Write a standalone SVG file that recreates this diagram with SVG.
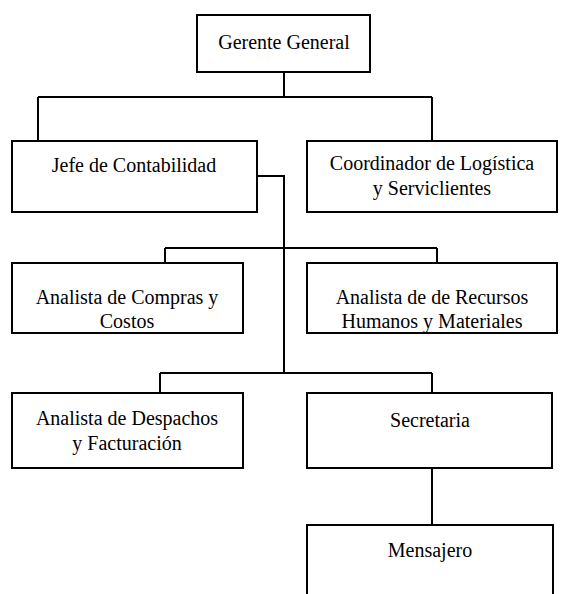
<svg xmlns="http://www.w3.org/2000/svg" width="568" height="594" viewBox="0 0 568 594">
<style>
.box{fill:#fff;stroke:#000;stroke-width:2}
.ln{fill:none;stroke:#000;stroke-width:2}
.t{font-size:20px;fill:#000;text-anchor:middle}
</style>
<rect width="568" height="594" fill="#fff"/>
<g id="connectors">
<path class="ln" d="M284,72 V97 M38,97 H432 M38,97 V141 M432,97 V141"/>
<path class="ln" d="M257,176 H284 V373"/>
<path class="ln" d="M165,248 H437 M165,248 V263 M437,248 V263"/>
<path class="ln" d="M160,373 H432 M160,373 V393 M432,373 V393"/>
<path class="ln" d="M432,468 V525"/>
</g>
<g font-family="Liberation Serif, Times New Roman, serif" class="t">
<g id="gerente"><rect class="box" x="197" y="15" width="173" height="57"/><text x="284" y="49">Gerente General</text></g>
<g id="jefe"><rect class="box" x="12" y="141" width="245" height="71"/><text x="134" y="172">Jefe de Contabilidad</text></g>
<g id="coordinador"><rect class="box" x="307" y="141" width="250" height="71"/><text x="432" y="170">Coordinador de Logística</text><text x="432" y="195">y Serviclientes</text></g>
<g id="compras"><rect class="box" x="12" y="263" width="231" height="70"/><text x="127" y="304">Analista de Compras y</text><text x="127" y="328">Costos</text></g>
<g id="recursos"><rect class="box" x="307" y="263" width="250" height="70"/><text x="432" y="304">Analista de de Recursos</text><text x="432" y="328">Humanos y Materiales</text></g>
<g id="despachos"><rect class="box" x="12" y="393" width="231" height="75"/><text x="127" y="425">Analista de Despachos</text><text x="127" y="450">y Facturación</text></g>
<g id="secretaria"><rect class="box" x="307" y="393" width="245" height="75"/><text x="430" y="427">Secretaria</text></g>
<g id="mensajero"><rect class="box" x="307" y="525" width="246" height="90"/><text x="430" y="557">Mensajero</text></g>
</g>
</svg>
